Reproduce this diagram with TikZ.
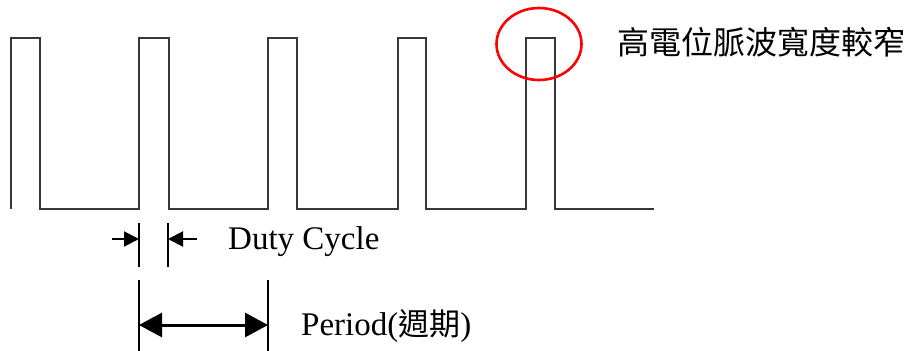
\documentclass[tikz,border=0pt]{standalone}
\usepackage{fontspec}
\setmainfont{Liberation Serif}
\newfontfamily\cjk{Noto Sans CJK TC}
\usetikzlibrary{arrows.meta}
\begin{document}
\begin{tikzpicture}[x=1pt,y=-1pt,
  wave/.style={line width=1.6pt,draw=black!78,line join=miter},
  marker/.style={line width=2pt,draw=black},
  smallarrow/.style={line width=2pt,-{Triangle[length=15pt,width=15pt]}},
  bigarrow/.style={line width=3pt,{Triangle[length=23pt,width=24pt]}-{Triangle[length=23pt,width=24pt]}},
  lbl/.style={inner sep=0pt,font=\fontsize{33}{36}\selectfont}]
\useasboundingbox (0,0) rectangle (914,351);
% waveform
\draw[wave] (11,209) -- (11,38) -- (40,38) -- (40,209)
  -- (139,209) -- (139,38) -- (169,38) -- (169,209)
  -- (268,209) -- (268,38) -- (297,38) -- (297,209)
  -- (398,209) -- (398,38) -- (426,38) -- (426,209)
  -- (526,209) -- (526,38) -- (555,38) -- (555,209)
  -- (654,209);
% highlight circle
\draw[red,line width=2.6pt] (539,44) ellipse [x radius=42.5pt, y radius=36pt];
\node[lbl,anchor=west,font=\cjk\fontsize{32}{36}\selectfont] (note) at (617,42) {高電位脈波寬度較窄};
% duty cycle markers
\coordinate (d1t) at (139,223); \coordinate (d1b) at (139,267);
\coordinate (d2t) at (168,223); \coordinate (d2b) at (168,267);
\draw[marker] (d1t) -- (d1b);
\draw[marker] (d2t) -- (d2b);
\coordinate (dl) at (112,239); \coordinate (dlt) at (139,239);
\coordinate (dr) at (197,239); \coordinate (drt) at (168,239);
\draw[smallarrow] (dl) -- (dlt);
\draw[smallarrow] (dr) -- (drt);
\node[lbl,anchor=base west] (duty) at (228,249) {Duty Cycle};
% period markers
\coordinate (p1t) at (139,280); \coordinate (p1b) at (139,351);
\coordinate (p2t) at (268,280); \coordinate (p2b) at (268,351);
\draw[marker] (p1t) -- (p1b);
\draw[marker] (p2t) -- (p2b);
\coordinate (pa) at (139,325); \coordinate (pb) at (268,325);
\draw[bigarrow] (pa) -- (pb);
\node[lbl,anchor=base west] (period) at (301,335) {Period({\cjk\fontsize{31}{36}\selectfont 週期})};
\end{tikzpicture}
\end{document}
